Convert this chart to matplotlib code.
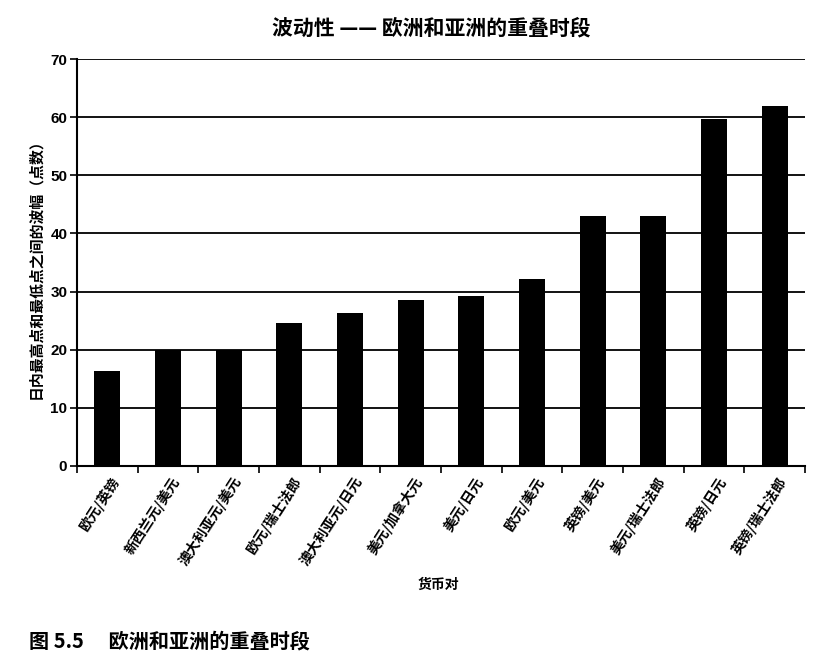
import matplotlib
matplotlib.use("Agg")
import matplotlib.pyplot as plt
import numpy as np

plt.rcParams['font.family'] = ['Noto Sans CJK SC', 'DejaVu Sans']

categories = ["欧元/英镑", "新西兰元/美元", "澳大利亚元/美元", "欧元/瑞士法郎",
              "澳大利亚元/日元", "美元/加拿大元", "美元/日元", "欧元/美元",
              "英镑/美元", "美元/瑞士法郎", "英镑/日元", "英镑/瑞士法郎"]
values = [16.3, 20.0, 20.0, 24.6, 26.3, 28.6, 29.2, 32.1, 43.0, 43.0, 59.6, 61.9]
yticks = [0, 10, 20, 30, 40, 50, 60, 70]

fig = plt.figure(figsize=(8.27, 6.70), dpi=100)
ax = fig.add_axes([0.0931, 0.3045, 0.8803, 0.6074])

x = np.arange(len(categories))
ax.bar(x, values, width=0.43, color='black', zorder=3)
ax.set_xlim(-0.5, len(categories) - 0.5)
ax.set_ylim(0, 70)
ax.set_yticks(yticks)
ax.set_yticklabels([str(t) for t in yticks], fontfamily='Liberation Sans',
                   fontweight='bold', fontsize=11)
for t in yticks[1:]:
    ax.axhline(t, color='black', lw=1.3, zorder=1)

ax.set_xticks(np.arange(len(categories) + 1) - 0.5)
ax.set_xticklabels([])
ax.tick_params(axis='x', length=5, width=1.2, direction='out')
ax.tick_params(axis='y', length=5, width=1.2, direction='out', pad=2)
for s in ['top', 'right']:
    ax.spines[s].set_visible(False)
for s in ['left', 'bottom']:
    ax.spines[s].set_linewidth(1.5)

for i, lab in enumerate(categories):
    ax.annotate(lab, xy=(i, 0), xycoords=('data', 'axes fraction'),
                xytext=(2, -6), textcoords='offset points',
                rotation=57, ha='right', va='top', rotation_mode='anchor',
                fontsize=10, fontweight='bold')

fig.text(0.522, 0.958, "波动性 —— 欧洲和亚洲的重叠时段", ha='center', va='center',
         fontsize=15, fontweight='bold')
fig.text(0.043, 0.605, "日内最高点和最低点之间的波幅（点数）", rotation=90,
         ha='center', va='center', fontsize=10.7, fontweight='bold')
fig.text(0.530, 0.127, "货币对", ha='center', va='center', fontsize=10,
         fontweight='bold')
fig.text(0.035, 0.043, "图 5.5 　欧洲和亚洲的重叠时段", ha='left', va='center',
         fontsize=14.5, fontweight='bold')

fig.savefig("out.png", dpi=100)
